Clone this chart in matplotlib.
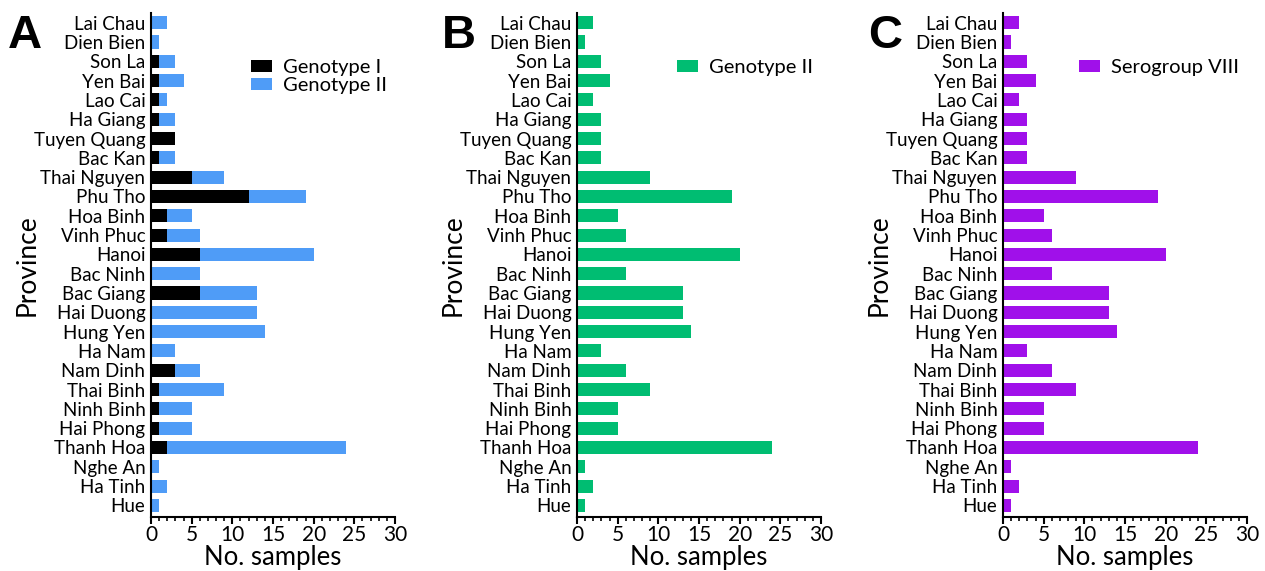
import matplotlib
matplotlib.use("Agg")
import matplotlib.pyplot as plt
from matplotlib.ticker import MultipleLocator

provinces = ["Lai Chau", "Dien Bien", "Son La", "Yen Bai", "Lao Cai", "Ha Giang",
             "Tuyen Quang", "Bac Kan", "Thai Nguyen", "Phu Tho", "Hoa Binh",
             "Vinh Phuc", "Hanoi", "Bac Ninh", "Bac Giang", "Hai Duong", "Hung Yen",
             "Ha Nam", "Nam Dinh", "Thai Binh", "Ninh Binh", "Hai Phong",
             "Thanh Hoa", "Nghe An", "Ha Tinh", "Hue"]

genotype_1 = [0, 0, 1, 1, 1, 1, 3, 1, 5, 12, 2, 2, 6, 0, 6, 0, 0, 0, 3, 1, 1, 1, 2, 0, 0, 0]
genotype_2_stacked = [2, 1, 2, 3, 1, 2, 0, 2, 4, 7, 3, 4, 14, 6, 7, 13, 14, 3, 3, 8, 4, 4, 22, 1, 2, 1]
genotype_2 = [2, 1, 3, 4, 2, 3, 3, 3, 9, 19, 5, 6, 20, 6, 13, 13, 14, 3, 6, 9, 5, 5, 24, 1, 2, 1]
serogroup_8 = [2, 1, 3, 4, 2, 3, 3, 3, 9, 19, 5, 6, 20, 6, 13, 13, 14, 3, 6, 9, 5, 5, 24, 1, 2, 1]

BLUE = "#4f9cf7"
GREEN = "#00bd72"
PURPLE = "#a010ea"

plt.rcParams["font.family"] = ["Lato", "DejaVu Sans"]

fig = plt.figure(figsize=(12.65, 5.71), dpi=100)

lefts = [151 / 1265, 577 / 1265, 1003 / 1265]
width = 244 / 1265
bottom = 54 / 571
height = 504 / 571
letter_x = [8 / 1265, 442 / 1265, 868 / 1265]

legend_opts = dict(frameon=False, fontsize=14.5, handlelength=1.05, handleheight=0.55,
                   labelspacing=0.05, handletextpad=0.55, borderaxespad=0.0)


def style_axis(ax, letter, lx):
    ax.set_xlim(0, 30)
    ax.set_ylim(25.6, -0.5)
    ax.set_yticks(range(len(provinces)))
    ax.set_yticklabels(provinces, fontsize=13.5)
    ax.xaxis.set_major_locator(MultipleLocator(5))
    ax.xaxis.set_minor_locator(MultipleLocator(1))
    ax.tick_params(axis="x", which="major", length=5, width=1.5, labelsize=15, pad=1)
    ax.tick_params(axis="x", which="minor", length=3, width=1.2)
    ax.tick_params(axis="y", length=0, pad=4)
    for side in ["top", "right"]:
        ax.spines[side].set_visible(False)
    for side in ["left", "bottom"]:
        ax.spines[side].set_linewidth(1.5)
    ax.set_xlabel("No. samples", fontsize=18.5, labelpad=0)
    ax.set_ylabel("Province", fontsize=19, labelpad=-4)
    fig.text(lx, 1 - 14 / 571, letter, fontsize=34, fontweight="bold",
             family="Liberation Sans", va="top", ha="left")


y = list(range(len(provinces)))
bar_h = 0.68

axes = []
for i in range(3):
    ax = fig.add_axes([lefts[i], bottom, width, height])
    axes.append(ax)

ax = axes[0]
ax.barh(y, genotype_1, height=bar_h, color="black", label="Genotype I")
ax.barh(y, genotype_2_stacked, left=genotype_1, height=bar_h, color=BLUE, label="Genotype II")
style_axis(ax, "A", letter_x[0])
ax.legend(loc="upper right", bbox_to_anchor=(1.0, 0.925), **legend_opts)

ax = axes[1]
ax.barh(y, genotype_2, height=bar_h, color=GREEN, label="Genotype II")
style_axis(ax, "B", letter_x[1])
ax.legend(loc="upper right", bbox_to_anchor=(1.0, 0.925), **legend_opts)

ax = axes[2]
ax.barh(y, serogroup_8, height=bar_h, color=PURPLE, label="Serogroup VIII")
style_axis(ax, "C", letter_x[2])
ax.legend(loc="upper right", bbox_to_anchor=(1.0, 0.925), **legend_opts)

fig.savefig("out.png", dpi=100)
